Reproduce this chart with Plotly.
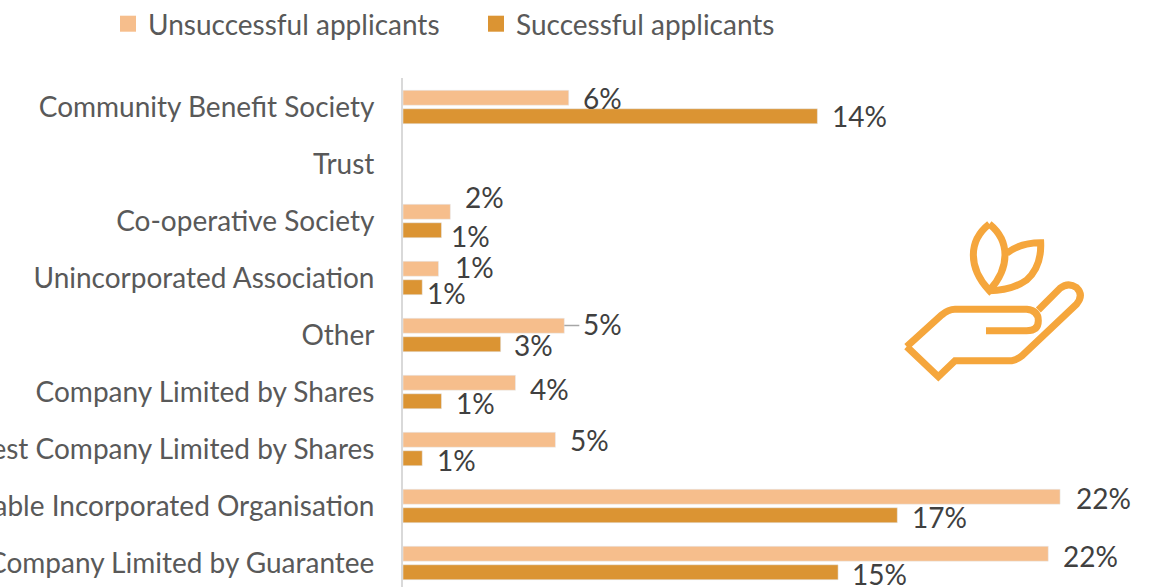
import plotly.graph_objects as go

categories = ["Community Benefit Society", "Trust", "Co-operative Society", "Unincorporated Association",
              "Other", "Company Limited by Shares", "Community Interest Company Limited by Shares",
              "Charitable Incorporated Organisation", "Company Limited by Guarantee"]
series_names = ["Unsuccessful applicants", "Successful applicants"]
unsuccessful = [5.6, None, 1.6, 1.2, 5.45, 3.8, 5.15, 22.2, 21.8]
successful = [14.0, None, 1.3, 0.65, 3.3, 1.3, 0.65, 16.7, 14.7]
unsuccessful_labels = ["6%", None, "2%", "1%", "5%", "4%", "5%", "22%", "22%"]
successful_labels = ["14%", None, "1%", "1%", "3%", "1%", "1%", "17%", "15%"]

# label nudges, pixels from the bar end
u_dx = [34, 0, 34, 36, 38, 34, 34, 43, 42]
u_dy = [0, 0, 15, 2, 2, -6, 0, -1, -2]
s_dx = [42, 0, 29, 24, 33, 34, 34, 42, 41]
s_dy = [0, 0, -6, -6, -1, -2, -2, -2, -2]

W, H = 1152, 587
L, T = 403, 78
C_LIGHT, C_DARK, C_ICON = "#F6BE8C", "#DB9433", "#F5A63C"
FONT = "Lato"
FS = 28

fig = go.Figure()
fig.add_bar(y=categories, x=unsuccessful, name=series_names[0], orientation="h",
            marker_color=C_LIGHT, showlegend=False, legendgroup="u")
fig.add_bar(y=categories, x=successful, name=series_names[1], orientation="h",
            marker_color=C_DARK, showlegend=False, legendgroup="s")
# legend keys: square markers reach the reference's key size
for name, col, grp in ((series_names[0], C_LIGHT, "u"), (series_names[1], C_DARK, "s")):
    fig.add_scatter(x=[None], y=[None], mode="markers", name=name, legendgroup=grp,
                    marker=dict(symbol="square", size=16, color=col))

for vals, labs, dxs, dys, off in ((unsuccessful, unsuccessful_labels, u_dx, u_dy, -9.25),
                                  (successful, successful_labels, s_dx, s_dy, 9.25)):
    for c, v, t, dx, dy in zip(categories, vals, labs, dxs, dys):
        if v is None:
            continue
        fig.add_annotation(x=v, y=c, text=t, showarrow=False, xanchor="center", yanchor="middle",
                           xshift=dx, yshift=dy - off, font=dict(family=FONT, size=FS, color="#404040"))


def P(x, y):
    x0, y0 = 880 + x / 3, 200 + y / 3
    return f"{(x0 - L) / (W - L):.5f},{1 - (y0 - T) / (H - T):.5f}"


def path(cmds):
    out = []
    for c in cmds:
        op, pts = c[0], c[1:]
        out.append(op + " ".join(P(*p) for p in pts))
    return " ".join(out)


hand = [("M", (80, 440)), ("L", (185, 345)), ("Q", (205, 328), (225, 328)), ("L", (440, 328)),
        ("Q", (475, 332), (475, 362)), ("Q", (475, 392), (440, 392)), ("L", (318, 392))]
hand2 = [("M", (80, 440)), ("L", (175, 530)), ("L", (225, 482)), ("L", (395, 482)),
         ("Q", (410, 480), (425, 468)), ("L", (590, 312)), ("Q", (612, 285), (590, 263)),
         ("Q", (565, 245), (540, 265)), ("L", (475, 330))]
leaf1 = [("M", (328, 72)), ("Q", (280, 110), (280, 165)), ("Q", (280, 220), (328, 272)),
         ("Q", (375, 220), (375, 165)), ("Q", (375, 110), (328, 72))]
leaf2 = [("M", (380, 160)), ("Q", (420, 128), (482, 128)), ("Q", (485, 200), (440, 240)),
         ("Q", (395, 272), (328, 272))]
shapes = [dict(type="path", xref="paper", yref="paper", path=path(p),
               line=dict(color=C_ICON, width=7)) for p in (hand, hand2, leaf1, leaf2)]

# leader line of the "Other" label
shapes.append(dict(type="line", xref="x", yref="paper", xsizemode="pixel", xanchor=unsuccessful[4],
                   x0=0, x1=15, y0=1 - (325.5 - T) / (H - T), y1=1 - (325.5 - T) / (H - T),
                   line=dict(color="#A6A6A6", width=1.5)))

fig.update_layout(
    width=W, height=H, margin=dict(l=L, r=0, t=T, b=0, autoexpand=False), autosize=False,
    paper_bgcolor="white", plot_bgcolor="white",
    barmode="group", bargap=0.351, bargroupgap=0.19,
    showlegend=True,
    legend=dict(orientation="h", x=(108 - L) / (W - L), xanchor="left", y=1 + (T + 1) / (H - T), yanchor="top",
                font=dict(family=FONT, size=FS, color="#595959"), bgcolor="rgba(0,0,0,0)",
                entrywidth=323, entrywidthmode="pixels", traceorder="normal", itemclick=False),
    xaxis=dict(range=[0, (W - L) / 29.6], visible=False, automargin=False),
    yaxis=dict(type="category", categoryorder="array", categoryarray=categories, automargin=False,
               range=[(H - 107) / 57, (T - 107) / 57], showgrid=False, ticks="",
               showline=True, linecolor="#D9D9D9", linewidth=2, ticklabelstandoff=21,
               tickfont=dict(family=FONT, size=FS, color="#595959")),
    shapes=shapes, font=dict(family=FONT),
)
fig.write_html("out.html", config=dict(displayModeBar=False),
               post_script="document.body.style.margin='0';document.body.style.overflow='hidden';")
